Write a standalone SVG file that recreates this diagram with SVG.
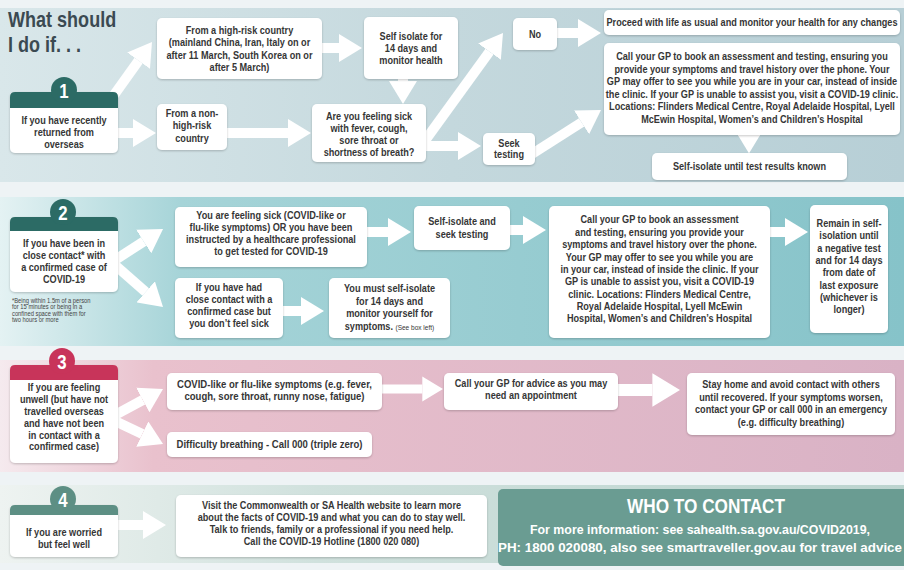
<svg xmlns="http://www.w3.org/2000/svg" width="904" height="570" viewBox="0 0 904 570">
<style>
.t{font-family:'Liberation Sans',Arial,sans-serif;font-size:10.5px;font-weight:bold;fill:#363636;text-anchor:middle}
.box{fill:#fff;filter:url(#ds)}
.sh{stroke:#fff;stroke-width:10;fill:none;marker-end:url(#ah)}
.num{font-family:'Liberation Sans',Arial,sans-serif;font-size:21px;font-weight:bold;fill:#fff;text-anchor:middle}
.title{font-family:'Liberation Sans',Arial,sans-serif;font-size:22px;font-weight:bold;fill:#3b4a52}
.fn{font-family:'Liberation Sans',Arial,sans-serif;font-size:6.3px;fill:#444}
.w{font-family:'Liberation Sans',Arial,sans-serif;font-weight:bold;fill:#fff;text-anchor:middle}
.teal{fill:#2c6b65}
.red{fill:#c8345a}
.grey{fill:#5d8f84}
</style>
<defs>
<filter id="ds" x="-10%" y="-10%" width="120%" height="130%"><feDropShadow dx="0" dy="1" stdDeviation="1.2" flood-color="#000" flood-opacity="0.22"/></filter>
<marker id="ah" viewBox="0 0 23 28" refX="0" refY="14" markerWidth="2.3" markerHeight="2.8" orient="auto" markerUnits="strokeWidth"><path d="M0,0 L23,14 L0,28 Z" fill="#fff"/></marker>
<linearGradient id="g1" x1="0" y1="0" x2="1" y2="0"><stop offset="0" stop-color="#d9e7ea"/><stop offset="0.5" stop-color="#c4d8dd"/><stop offset="1" stop-color="#b7cfd6"/></linearGradient>
<linearGradient id="g2" x1="0" y1="0" x2="1" y2="0"><stop offset="0" stop-color="#e4f2f3"/><stop offset="0.2" stop-color="#a6d4d8"/><stop offset="1" stop-color="#86c3c9"/></linearGradient>
<linearGradient id="g3" x1="0" y1="0" x2="1" y2="0"><stop offset="0" stop-color="#f5eaee"/><stop offset="0.17" stop-color="#e9c1cd"/><stop offset="1" stop-color="#d9b2c5"/></linearGradient>
<linearGradient id="g4" x1="0" y1="0" x2="1" y2="0"><stop offset="0" stop-color="#eef3f1"/><stop offset="0.35" stop-color="#d0e1dd"/><stop offset="1" stop-color="#bcd4cf"/></linearGradient>
</defs>

<rect x="0" y="0" width="904" height="570" fill="#eef3f5"/>
<rect x="0" y="8" width="904" height="174" fill="url(#g1)"/>
<rect x="0" y="197" width="904" height="149" fill="url(#g2)"/>
<rect x="0" y="360" width="904" height="112" fill="url(#g3)"/>
<rect x="0" y="485" width="904" height="78" fill="url(#g4)"/>

<g transform="matrix(.82,0,0,1,1.44,0)">
<text class="title" x="8" y="27">What should</text>
<text class="title" x="8" y="52">I do if. . .</text>
</g>

<g id="connectors">
<line class="sh" x1="104" y1="109" x2="138.6" y2="60.7"/>
<line class="sh" x1="110" y1="133" x2="133" y2="133"/>
<line class="sh" x1="315" y1="48" x2="339" y2="48"/>
<line class="sh" x1="403" y1="75" x2="403" y2="81"/>
<line class="sh" x1="220" y1="133" x2="288" y2="133"/>
<line class="sh" x1="422" y1="144.8" x2="489.5" y2="51.6"/>
<line class="sh" x1="420" y1="146" x2="458" y2="146"/>
<line class="sh" x1="552" y1="33" x2="578" y2="33"/>
<line class="sh" x1="531" y1="154.6" x2="581.6" y2="122.4"/>
<line class="sh" x1="749" y1="130" x2="749" y2="135" style="stroke-width:8"/>
<line class="sh" x1="110" y1="263.2" x2="143.7" y2="241.5"/>
<line class="sh" x1="111.8" y1="262.3" x2="145.7" y2="291.9"/>
<line class="sh" x1="278" y1="311" x2="301" y2="311"/>
<line class="sh" x1="360" y1="232" x2="388" y2="232"/>
<line class="sh" x1="505" y1="230" x2="523" y2="230"/>
<line class="sh" x1="765" y1="232" x2="785" y2="232"/>
<line class="sh" x1="112" y1="416.7" x2="142.8" y2="400"/>
<line class="sh" x1="110.7" y1="419" x2="142.3" y2="434.1"/>
<line class="sh" x1="378" y1="389" x2="422.3" y2="389" style="stroke-width:9"/>
<line class="sh" x1="612" y1="390" x2="652.4" y2="390" style="stroke-width:12"/>
<line class="sh" x1="110" y1="525" x2="143" y2="525"/>
</g>

<g id="n1">
<rect class="box" x="10" y="92" width="108" height="61" rx="5"/>
<path class="teal" d="M10,108 V97 Q10,92 15,92 H113 Q118,92 118,97 V108 Z"/>
<circle class="teal" cx="64" cy="90" r="13"/>
<text class="num" x="64" y="98" transform="matrix(.8,0,0,1,12.8,0)">1</text>
<g transform="matrix(.87,0,0,1,8.32,0)">
<text class="t" x="64" y="124">If you have recently</text>
<text class="t" x="64" y="136">returned from</text>
<text class="t" x="64" y="148">overseas</text>
</g>
</g>
<g id="n-highrisk">
<rect class="box" x="157" y="18" width="165" height="61" rx="5"/>
<g transform="matrix(.87,0,0,1,31.135,0)">
<text class="t" x="239.5" y="34">From a high-risk country</text>
<text class="t" x="239.5" y="46.3">(mainland China, Iran, Italy on or</text>
<text class="t" x="239.5" y="58.6">after 11 March, South Korea on or</text>
<text class="t" x="239.5" y="70.9">after 5 March)</text>
</g>
</g>
<g id="n-nonhighrisk">
<rect class="box" x="157" y="104" width="70" height="46" rx="5"/>
<g transform="matrix(.87,0,0,1,24.96,0)">
<text class="t" x="192" y="117">From a non-</text>
<text class="t" x="192" y="129.5">high-risk</text>
<text class="t" x="192" y="142">country</text>
</g>
</g>
<g id="n-selfisolate14">
<rect class="box" x="364" y="17" width="94" height="62" rx="5"/>
<g transform="matrix(.87,0,0,1,53.43,0)">
<text class="t" x="411" y="40">Self isolate for</text>
<text class="t" x="411" y="52">14 days and</text>
<text class="t" x="411" y="64">monitor health</text>
</g>
</g>
<g id="n-sick">
<rect class="box" x="312" y="104" width="114" height="58" rx="5"/>
<g transform="matrix(.87,0,0,1,47.97,0)">
<text class="t" x="369" y="120">Are you feeling sick</text>
<text class="t" x="369" y="132">with fever, cough,</text>
<text class="t" x="369" y="144">sore throat or</text>
<text class="t" x="369" y="156">shortness of breath?</text>
</g>
</g>
<g id="n-no">
<rect class="box" x="513" y="18" width="44" height="32" rx="5"/>
<g transform="matrix(.87,0,0,1,69.55,0)">
<text class="t" x="535" y="38">No</text>
</g>
</g>
<g id="n-seek">
<rect class="box" x="483" y="133" width="52" height="32" rx="5"/>
<g transform="matrix(.87,0,0,1,66.17,0)">
<text class="t" x="509" y="147.5">Seek</text>
<text class="t" x="509" y="158.5">testing</text>
</g>
</g>
<g id="n-proceed">
<rect class="box" x="604" y="10" width="296" height="25" rx="5"/>
<g transform="matrix(.87,0,0,1,97.76,0)">
<text class="t" x="752" y="26">Proceed with life as usual and monitor your health for any changes</text>
</g>
</g>
<g id="n-callgp1">
<rect class="box" x="604" y="43" width="296" height="92" rx="5"/>
<g transform="matrix(.87,0,0,1,97.76,0)">
<text class="t" x="752" y="60.5">Call your GP to book an assessment and testing, ensuring you</text>
<text class="t" x="752" y="73">provide your symptoms and travel history over the phone. Your</text>
<text class="t" x="752" y="85.5">GP may offer to see you while you are in your car, instead of inside</text>
<text class="t" x="752" y="98">the clinic. If your GP is unable to assist you, visit a COVID-19 clinic.</text>
<text class="t" x="752" y="110.5">Locations: Flinders Medical Centre, Royal Adelaide Hospital, Lyell</text>
<text class="t" x="752" y="123">McEwin Hospital, Women’s and Children’s Hospital</text>
</g>
</g>
<g id="n-isolateuntil">
<rect class="box" x="652" y="153" width="195" height="27" rx="5"/>
<g transform="matrix(.87,0,0,1,97.435,0)">
<text class="t" x="749.5" y="170">Self-isolate until test results known</text>
</g>
</g>

<g id="n2">
<rect class="box" x="10" y="217" width="108" height="75" rx="5"/>
<path class="teal" d="M10,231 V222 Q10,217 15,217 H113 Q118,217 118,222 V231 Z"/>
<circle class="teal" cx="63" cy="212" r="13"/>
<text class="num" x="63" y="220" transform="matrix(.8,0,0,1,12.6,0)">2</text>
<g transform="matrix(.87,0,0,1,8.32,0)">
<text class="t" x="64" y="247">If you have been in</text>
<text class="t" x="64" y="259">close contact* with</text>
<text class="t" x="64" y="271">a confirmed case of</text>
<text class="t" x="64" y="283">COVID-19</text>
</g>
</g>
<g id="footnote" transform="matrix(.92,0,0,1,0.96,0)">
<text class="fn" x="12" y="303">*Being within 1.5m of a person</text>
<text class="fn" x="12" y="309.5">for 15 minutes or being in a</text>
<text class="fn" x="12" y="316">confined space with them for</text>
<text class="fn" x="12" y="322.5">two hours or more</text>
</g>
<g id="n-sick2">
<rect class="box" x="175" y="207" width="192" height="60" rx="5"/>
<g transform="matrix(.87,0,0,1,35.23,0)">
<text class="t" x="271" y="219.5">You are feeling sick (COVID-like or</text>
<text class="t" x="271" y="231.5">flu-like symptoms) OR you have been</text>
<text class="t" x="271" y="243.5">instructed by a healthcare professional</text>
<text class="t" x="271" y="255.5">to get tested for COVID-19</text>
</g>
</g>
<g id="n-closecontact">
<rect class="box" x="175" y="278" width="108" height="60" rx="5"/>
<g transform="matrix(.87,0,0,1,29.77,0)">
<text class="t" x="229" y="291.5">If you have had</text>
<text class="t" x="229" y="303.5">close contact with a</text>
<text class="t" x="229" y="315.5">confirmed case but</text>
<text class="t" x="229" y="327.5">you don’t feel sick</text>
</g>
</g>
<g id="n-mustisolate">
<rect class="box" x="329" y="278" width="121" height="60" rx="5"/>
<g transform="matrix(.87,0,0,1,50.635,0)">
<text class="t" x="389.5" y="292.5">You must self-isolate</text>
<text class="t" x="389.5" y="305">for 14 days and</text>
<text class="t" x="389.5" y="317.5">monitor yourself for</text>
<text class="t" x="389.5" y="330">symptoms. <tspan style="font-size:7.5px;font-weight:normal">(See box left)</tspan></text>
</g>
</g>
<g id="n-isolateseek">
<rect class="box" x="414" y="206" width="96" height="44" rx="5"/>
<g transform="matrix(.87,0,0,1,60.06,0)">
<text class="t" x="462" y="225">Self-isolate and</text>
<text class="t" x="462" y="238">seek testing</text>
</g>
</g>
<g id="n-callgp2">
<rect class="box" x="549" y="206" width="221" height="132" rx="5"/>
<g transform="matrix(.87,0,0,1,85.735,0)">
<text class="t" x="659.5" y="223.5">Call your GP to book an assessment</text>
<text class="t" x="659.5" y="236">and testing, ensuring you provide your</text>
<text class="t" x="659.5" y="248.3">symptoms and travel history over the phone.</text>
<text class="t" x="659.5" y="260.6">Your GP may offer to see you while you are</text>
<text class="t" x="659.5" y="273">in your car, instead of inside the clinic. If your</text>
<text class="t" x="659.5" y="285.3">GP is unable to assist you, visit a COVID-19</text>
<text class="t" x="659.5" y="297.6">clinic. Locations: Flinders Medical Centre,</text>
<text class="t" x="659.5" y="310">Royal Adelaide Hospital, Lyell McEwin</text>
<text class="t" x="659.5" y="322.3">Hospital, Women’s and Children’s Hospital</text>
</g>
</g>
<g id="n-remain">
<rect class="box" x="810" y="205" width="78" height="128" rx="5"/>
<g transform="matrix(.87,0,0,1,110.37,0)">
<text class="t" x="849" y="227">Remain in self-</text>
<text class="t" x="849" y="239.3">isolation until</text>
<text class="t" x="849" y="251.6">a negative test</text>
<text class="t" x="849" y="264">and for 14 days</text>
<text class="t" x="849" y="276.3">from date of</text>
<text class="t" x="849" y="288.6">last exposure</text>
<text class="t" x="849" y="301">(whichever is</text>
<text class="t" x="849" y="313.3">longer)</text>
</g>
</g>

<g id="n3">
<rect class="box" x="10" y="365" width="108" height="98" rx="5"/>
<path class="red" d="M10,380 V370 Q10,365 15,365 H113 Q118,365 118,370 V380 Z"/>
<circle class="red" cx="62" cy="361" r="13"/>
<text class="num" x="62" y="369" transform="matrix(.8,0,0,1,12.4,0)">3</text>
<g transform="matrix(.87,0,0,1,8.32,0)">
<text class="t" x="64" y="391.5">If you are feeling</text>
<text class="t" x="64" y="403.3">unwell (but have not</text>
<text class="t" x="64" y="415.1">travelled overseas</text>
<text class="t" x="64" y="426.9">and have not been</text>
<text class="t" x="64" y="438.7">in contact with a</text>
<text class="t" x="64" y="450.5">confirmed case)</text>
</g>
</g>
<g id="n-covidlike">
<rect class="box" x="167" y="373" width="215" height="37" rx="5"/>
<g transform="matrix(.91,0,0,1,24.705,0)">
<text class="t" x="274.5" y="388">COVID-like or flu-like symptoms (e.g. fever,</text>
<text class="t" x="274.5" y="400.5">cough, sore throat, runny nose, fatigue)</text>
</g>
</g>
<g id="n-difficulty">
<rect class="box" x="167" y="432" width="205" height="25" rx="5"/>
<g transform="matrix(.91,0,0,1,24.255,0)">
<text class="t" x="269.5" y="448">Difficulty breathing - Call 000 (triple zero)</text>
</g>
</g>
<g id="n-gpadvice">
<rect class="box" x="444" y="373" width="174" height="37" rx="5"/>
<g transform="matrix(.87,0,0,1,69.03,0)">
<text class="t" x="531" y="387">Call your GP for advice as you may</text>
<text class="t" x="531" y="399">need an appointment</text>
</g>
</g>
<g id="n-stayhome">
<rect class="box" x="687" y="373" width="208" height="62" rx="5"/>
<g transform="matrix(.87,0,0,1,102.83,0)">
<text class="t" x="791" y="388.5">Stay home and avoid contact with others</text>
<text class="t" x="791" y="401">until recovered. If your symptoms worsen,</text>
<text class="t" x="791" y="413.5">contact your GP or call 000 in an emergency</text>
<text class="t" x="791" y="426">(e.g. difficulty breathing)</text>
</g>
</g>

<g id="n4">
<rect class="box" x="10" y="505" width="108" height="52" rx="5"/>
<path class="grey" d="M10,515 V510 Q10,505 15,505 H113 Q118,505 118,510 V515 Z"/>
<circle class="grey" cx="63" cy="499" r="13"/>
<text class="num" x="63" y="507" transform="matrix(.8,0,0,1,12.6,0)">4</text>
<g transform="matrix(.87,0,0,1,8.32,0)">
<text class="t" x="64" y="536.5">If you are worried</text>
<text class="t" x="64" y="548">but feel well</text>
</g>
</g>
<g id="n-visit">
<rect class="box" x="176" y="495" width="311" height="62" rx="5"/>
<g transform="matrix(.87,0,0,1,43.095,0)">
<text class="t" x="331.5" y="509">Visit the Commonwealth or SA Health website to learn more</text>
<text class="t" x="331.5" y="521">about the facts of COVID-19 and what you can do to stay well.</text>
<text class="t" x="331.5" y="533">Talk to friends, family or a professional if you need help.</text>
<text class="t" x="331.5" y="545">Call the COVID-19 Hotline (1800 020 080)</text>
</g>
</g>
<g id="who">
<rect x="498" y="489" width="410" height="77" rx="5" fill="#6a9c92"/>
<text class="w" x="706" y="513" style="font-size:21px" textLength="158" lengthAdjust="spacingAndGlyphs">WHO TO CONTACT</text>
<text class="w" x="700" y="534" style="font-size:13px" textLength="340" lengthAdjust="spacingAndGlyphs">For more information: see sahealth.sa.gov.au/COVID2019,</text>
<text class="w" x="700" y="552" style="font-size:13px" textLength="404" lengthAdjust="spacingAndGlyphs">PH: 1800 020080, also see smartraveller.gov.au for travel advice</text>
</g>
</svg>
